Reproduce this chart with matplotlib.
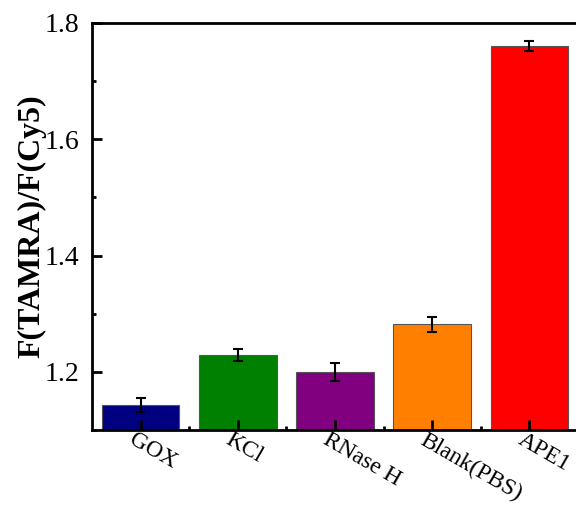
import numpy as np
import matplotlib.pyplot as plt
import matplotlib.transforms as mtransforms
from matplotlib.ticker import MultipleLocator

plt.rcParams['font.family'] = ['Liberation Serif', 'DejaVu Serif']

groups = ['GOX', 'KCl', 'RNase H', 'Blank(PBS)', 'APE1']
ratio = [1.143, 1.229, 1.200, 1.282, 1.760]
ratio_err = [0.012, 0.011, 0.015, 0.013, 0.009]
bar_colors = ['#000080', '#008000', '#800080', '#FF8000', '#FF0000']

fig = plt.figure(figsize=(5.76, 5.07), dpi=100)
ax = fig.add_axes([92 / 576, 1 - 430 / 507, 486 / 576, 407 / 507])

x = np.arange(len(groups))
ax.bar(x, ratio, width=0.8, color=bar_colors, edgecolor='#555555', linewidth=0.8,
       yerr=ratio_err, capsize=3.5, error_kw=dict(elinewidth=1.5, capthick=1.5, ecolor='black'))

ax.set_xlim(-0.5, 4.5)
ax.set_ylim(1.1, 1.8)
ax.set_yticks([1.2, 1.4, 1.6, 1.8])
ax.yaxis.set_minor_locator(MultipleLocator(0.1))
ax.set_xticks(x)
ax.set_xticks(x[:-1] + 0.5, minor=True)
ax.set_xticklabels(groups, rotation=-30, ha='left', rotation_mode='anchor')

for s in ax.spines.values():
    s.set_linewidth(2)
ax.tick_params(which='major', direction='in', length=7, width=2, labelsize=20)
ax.tick_params(which='minor', direction='in', length=3, width=2)
ax.tick_params(axis='x', which='major', labelsize=17, pad=4)
ax.tick_params(axis='y', which='major', pad=9)

# nudge the rotated labels a little to the left and up
shift = mtransforms.ScaledTranslation(-5 / 100, 6 / 100, fig.dpi_scale_trans)
for lab in ax.get_xticklabels():
    lab.set_transform(lab.get_transform() + shift)

ax.set_ylabel('F(TAMRA)/F(Cy5)', fontsize=23, fontweight='bold')
ax.yaxis.set_label_coords(-0.094, 0.5)

fig.savefig('out.png', dpi=100)
